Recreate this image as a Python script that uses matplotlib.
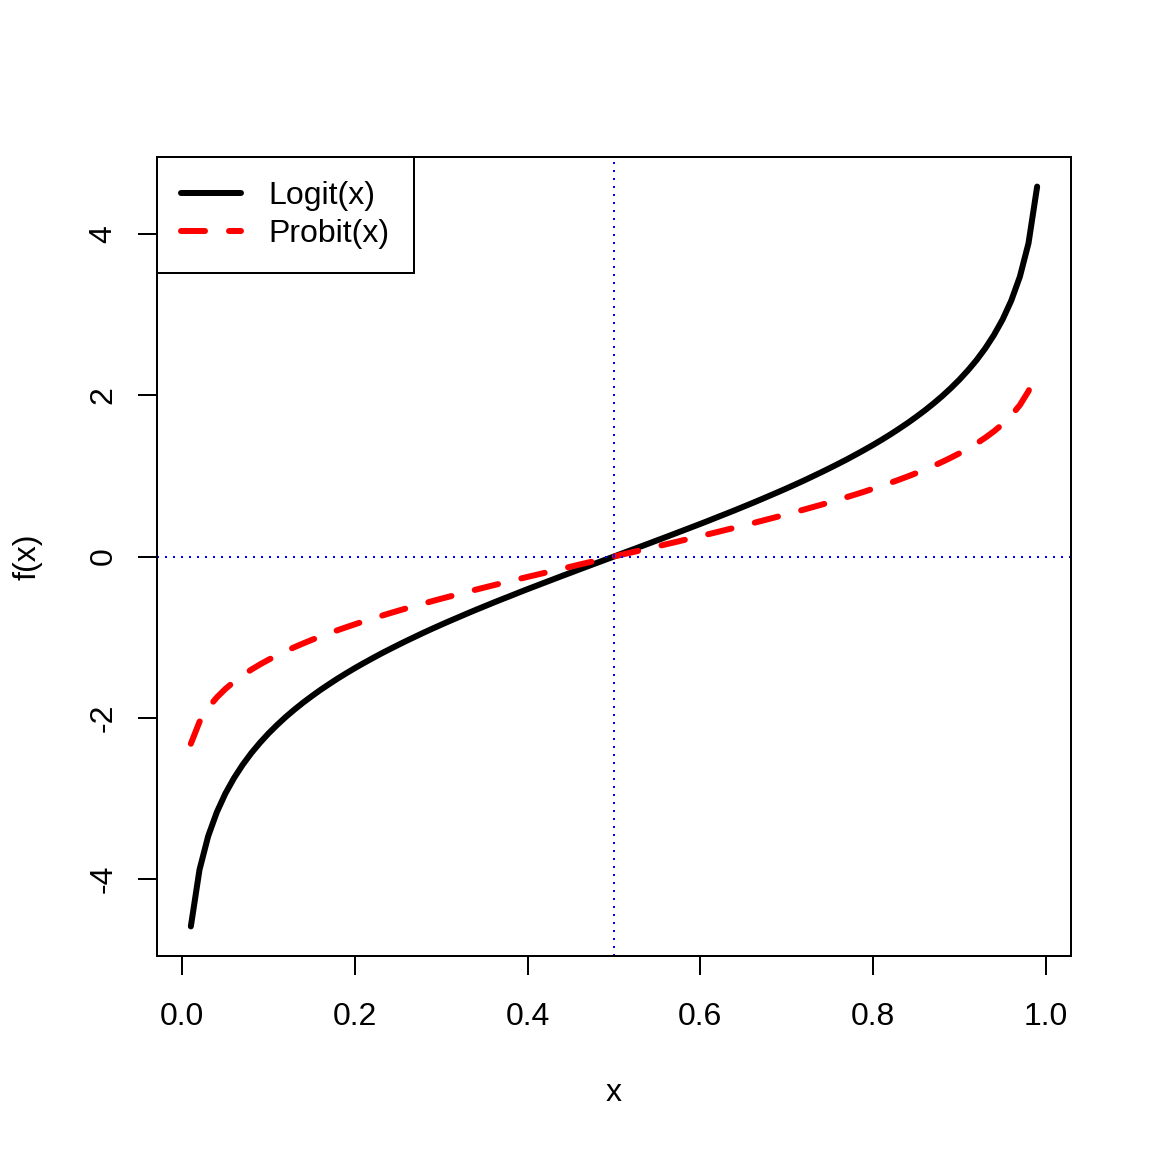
import matplotlib
matplotlib.use("Agg")
import matplotlib.pyplot as plt
import numpy as np

# x grid 0.01 .. 0.99
x = [0.01, 0.02, 0.03, 0.04, 0.05, 0.06, 0.07, 0.08, 0.09, 0.10,
     0.11, 0.12, 0.13, 0.14, 0.15, 0.16, 0.17, 0.18, 0.19, 0.20,
     0.21, 0.22, 0.23, 0.24, 0.25, 0.26, 0.27, 0.28, 0.29, 0.30,
     0.31, 0.32, 0.33, 0.34, 0.35, 0.36, 0.37, 0.38, 0.39, 0.40,
     0.41, 0.42, 0.43, 0.44, 0.45, 0.46, 0.47, 0.48, 0.49, 0.50,
     0.51, 0.52, 0.53, 0.54, 0.55, 0.56, 0.57, 0.58, 0.59, 0.60,
     0.61, 0.62, 0.63, 0.64, 0.65, 0.66, 0.67, 0.68, 0.69, 0.70,
     0.71, 0.72, 0.73, 0.74, 0.75, 0.76, 0.77, 0.78, 0.79, 0.80,
     0.81, 0.82, 0.83, 0.84, 0.85, 0.86, 0.87, 0.88, 0.89, 0.90,
     0.91, 0.92, 0.93, 0.94, 0.95, 0.96, 0.97, 0.98, 0.99]

logit_lower = [-4.595, -3.892, -3.476, -3.178, -2.944, -2.752, -2.587, -2.442, -2.314, -2.197,
               -2.091, -1.992, -1.901, -1.815, -1.735, -1.658, -1.586, -1.516, -1.450, -1.386,
               -1.325, -1.266, -1.208, -1.153, -1.099, -1.046, -0.995, -0.944, -0.895, -0.847,
               -0.800, -0.754, -0.708, -0.663, -0.619, -0.575, -0.532, -0.490, -0.447, -0.405,
               -0.364, -0.323, -0.282, -0.241, -0.201, -0.160, -0.120, -0.080, -0.040]
probit_lower = [-2.326, -2.054, -1.881, -1.751, -1.645, -1.555, -1.476, -1.405, -1.341, -1.282,
                -1.227, -1.175, -1.126, -1.080, -1.036, -0.994, -0.954, -0.915, -0.878, -0.842,
                -0.806, -0.772, -0.739, -0.706, -0.674, -0.643, -0.613, -0.583, -0.553, -0.524,
                -0.496, -0.468, -0.440, -0.412, -0.385, -0.358, -0.332, -0.305, -0.279, -0.253,
                -0.228, -0.202, -0.176, -0.151, -0.126, -0.100, -0.075, -0.050, -0.025]

logit_y = logit_lower + [0.0] + [-v for v in reversed(logit_lower)]
probit_y = probit_lower + [0.0] + [-v for v in reversed(probit_lower)]

xticks = [0.0, 0.2, 0.4, 0.6, 0.8, 1.0]
xtick_labels = ["0.0", "0.2", "0.4", "0.6", "0.8", "1.0"]
yticks = [-4, -2, 0, 2, 4]
ytick_labels = ["-4", "-2", "0", "2", "4"]

plt.rcParams['font.family'] = ['Liberation Sans', 'DejaVu Sans']
FS = 23.0
LW1 = 1.44
LW3 = 4.32

fig = plt.figure(figsize=(11.52, 11.52), dpi=100)
ax = fig.add_axes([157/1152, 1-956/1152, (1071-157)/1152, (956-157)/1152])

ax.plot(x, logit_y, color='black', lw=LW3, solid_capstyle='round', solid_joinstyle='round',
        label='Logit(x)')
ax.plot(x, probit_y, color='red', lw=LW3, linestyle=(0, (4, 4)), dash_capstyle='round',
        label='Probit(x)')
ax.axvline(0.5, color='blue', lw=LW1, linestyle=(0, (1, 3)))
ax.axhline(0.0, color='blue', lw=LW1, linestyle=(0, (1, 3)))

xr = 0.99 - 0.01
ax.set_xlim(0.01 - 0.04 * xr, 0.99 + 0.04 * xr)
yr = max(logit_y) - min(logit_y)
ax.set_ylim(min(logit_y) - 0.04 * yr, max(logit_y) + 0.04 * yr)

ax.set_xticks(xticks)
ax.set_xticklabels(xtick_labels)
ax.set_yticks(yticks)
ax.set_yticklabels(ytick_labels, rotation=90, va='center')
ax.tick_params(axis='both', length=13.8, width=LW1, labelsize=FS, color='black')
ax.tick_params(axis='x', pad=19.5)
ax.tick_params(axis='y', pad=14)
for s in ax.spines.values():
    s.set_linewidth(LW1)

ax.set_xlabel('x', fontsize=FS, labelpad=33)
ax.set_ylabel('f(x)', fontsize=FS, labelpad=33)

leg = ax.legend(loc='upper left', borderaxespad=0, fancybox=False, framealpha=1,
                edgecolor='black', fontsize=FS, handlelength=1.875, handletextpad=0.875,
                borderpad=0.75, labelspacing=0.25)
leg.get_frame().set_linewidth(LW1)

fig.savefig('out.png', dpi=100)
